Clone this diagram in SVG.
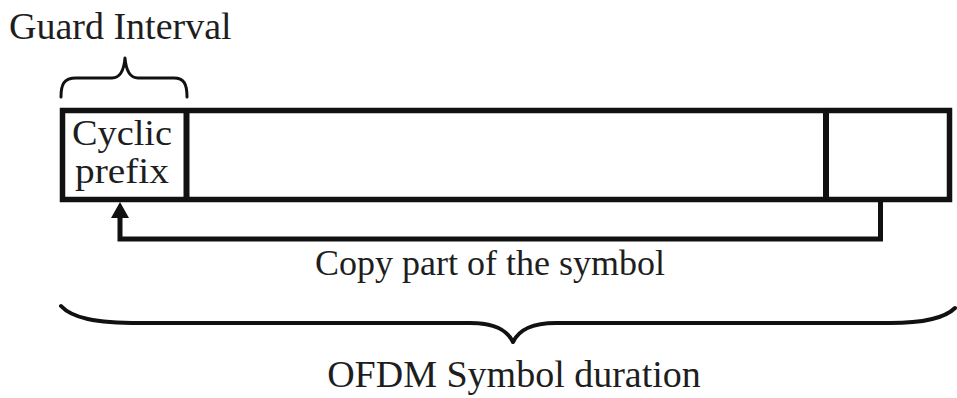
<svg xmlns="http://www.w3.org/2000/svg" width="957" height="398" viewBox="0 0 957 398">
  <style>
    .lbl { font-family: "Liberation Serif", "Times New Roman", serif; fill: #1e1e1e; }
    .box { fill: #ffffff; stroke: #111111; stroke-width: 5.5; }
    .wire { fill: none; stroke: #111111; stroke-width: 5; }
    .head { fill: #111111; }
    .brace { fill: none; stroke: #111111; stroke-linecap: round; stroke-linejoin: round; }
  </style>
  <rect width="957" height="398" fill="#ffffff"/>

  <!-- guard interval label and brace -->
  <g id="guard-interval">
    <text class="lbl" x="9" y="39" font-size="38">Guard Interval</text>
    <path class="brace" stroke-width="3" d="M61,97 C61,84 64,78 76,78 L112,78 C120,78 124,70 125,58 C126,70 130,78 138,78 L174,78 C184,78 187,84 187,97"/>
  </g>

  <!-- OFDM symbol frame -->
  <g id="symbol-frame">
    <rect class="box" x="62.5" y="110.5" width="887" height="89"/>
  </g>

  <!-- cyclic prefix section -->
  <g id="cyclic-prefix">
    <line x1="186.5" y1="110.5" x2="186.5" y2="199.5" stroke="#111111" stroke-width="6"/>
    <text class="lbl" x="122" y="145" font-size="36" text-anchor="middle" textLength="100" lengthAdjust="spacingAndGlyphs">Cyclic</text>
    <text class="lbl" x="122" y="183" font-size="36" text-anchor="middle" textLength="94" lengthAdjust="spacingAndGlyphs">prefix</text>
  </g>

  <!-- tail section that is copied -->
  <g id="symbol-tail">
    <line x1="826" y1="110.5" x2="826" y2="199.5" stroke="#111111" stroke-width="6"/>
  </g>

  <!-- copy connector with arrowhead into the prefix -->
  <g id="connectors">
    <path class="wire" d="M880.5,200 L880.5,239 L120,239 L120,215"/>
    <polygon class="head" points="120,202 129,218 111,218"/>
  </g>

  <g id="copy-label">
    <text class="lbl" x="490" y="275" font-size="36" text-anchor="middle">Copy part of the symbol</text>
  </g>

  <!-- total duration brace and label -->
  <g id="symbol-duration">
    <path class="brace" stroke-width="4" d="M61,306 C72,318 95,323 140,323 L470,323 C495,323 507,330 513,342 C519,330 531,323 556,323 L890,323 C925,323 945,318 955,308"/>
    <text class="lbl" x="514" y="387" font-size="38" text-anchor="middle">OFDM Symbol duration</text>
  </g>
</svg>
